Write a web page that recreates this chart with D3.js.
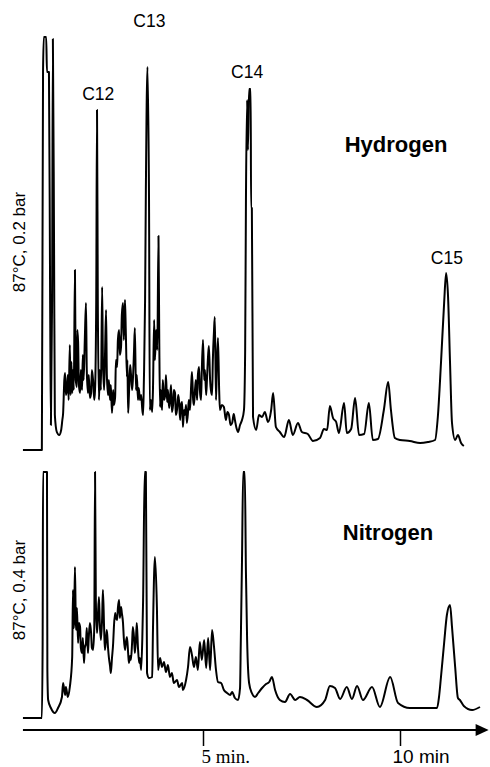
<!DOCTYPE html>
<html>
<head>
<meta charset="utf-8">
<script src="https://cdn.jsdelivr.net/npm/d3@7"></script>
<style>
  body { margin: 0; background: #fff; }
  svg { display: block; }
</style>
</head>
<body>
<div id="drawArea"></div>
<script>
// retention time (min), detector signal (arbitrary units)
var hydrogenTrace = [
  [0.43,0],[0.91,0],[0.94,378],[0.96,413],[1.02,413],[1.04,378],[1.09,378],[1.12,150],
  [1.14,25],[1.17,150],[1.19,411],[1.22,200],[1.24,35],[1.29,18],[1.35,15],[1.40,20],
  [1.43,30],[1.45,37],[1.48,70],[1.50,77],[1.52,55],[1.55,62],[1.57,75],[1.59,50],
  [1.62,105],[1.64,55],[1.66,88],[1.68,57],[1.70,80],[1.72,60],[1.75,180],[1.77,70],
  [1.80,63],[1.81,120],[1.83,108],[1.85,65],[1.88,57],[1.90,80],[1.93,60],[1.95,95],
  [1.97,70],[2.00,110],[2.03,147],[2.05,80],[2.08,57],[2.10,75],[2.13,52],[2.16,57],
  [2.18,80],[2.21,70],[2.24,50],[2.26,60],[2.29,150],[2.31,340],[2.33,150],[2.36,50],
  [2.38,80],[2.41,60],[2.44,163],[2.46,90],[2.49,60],[2.51,90],[2.54,140],[2.56,75],
  [2.59,55],[2.61,70],[2.64,50],[2.66,65],[2.69,37],[2.72,60],[2.74,45],[2.77,53],
  [2.79,90],[2.82,83],[2.84,110],[2.87,120],[2.89,95],[2.92,103],[2.94,135],[2.97,147],
  [2.99,110],[3.02,150],[3.04,120],[3.07,73],[3.08,90],[3.10,37],[3.12,55],[3.15,85],
  [3.17,77],[3.20,60],[3.22,70],[3.25,100],[3.27,122],[3.30,60],[3.32,75],[3.35,50],
  [3.37,62],[3.40,50],[3.43,55],[3.46,40],[3.48,35],[3.50,70],[3.53,150],[3.55,260],
  [3.59,383],[3.63,250],[3.65,40],[3.68,50],[3.71,38],[3.73,60],[3.76,130],[3.78,90],
  [3.81,120],[3.84,100],[3.87,214],[3.89,110],[3.91,43],[3.93,60],[3.96,40],[3.98,70],
  [4.01,50],[4.04,55],[4.06,75],[4.09,48],[4.11,60],[4.14,42],[4.16,50],[4.19,65],
  [4.21,38],[4.24,45],[4.26,60],[4.29,57],[4.31,35],[4.34,40],[4.37,55],[4.39,50],
  [4.42,30],[4.44,45],[4.47,48],[4.49,23],[4.52,40],[4.54,35],[4.57,45],[4.59,27],
  [4.62,38],[4.64,50],[4.67,40],[4.70,65],[4.72,78],[4.75,50],[4.77,45],[4.80,62],
  [4.82,70],[4.85,50],[4.87,75],[4.90,83],[4.92,60],[4.95,50],[4.97,80],[5.00,110],
  [5.03,70],[5.05,80],[5.08,55],[5.10,70],[5.13,95],[5.15,104],[5.18,70],[5.20,60],
  [5.23,55],[5.25,90],[5.28,120],[5.30,133],[5.33,50],[5.35,80],[5.38,112],[5.41,60],
  [5.43,40],[5.48,45],[5.53,43],[5.58,30],[5.62,38],[5.66,35],[5.70,25],[5.74,27],
  [5.78,36],[5.81,30],[5.85,22],[5.89,18],[5.94,25],[5.99,30],[6.04,40],[6.07,100],
  [6.09,250],[6.12,350],[6.14,300],[6.17,361],[6.21,361],[6.22,242],[6.24,242],[6.27,33],
  [6.35,20],[6.42,35],[6.50,33],[6.57,38],[6.65,28],[6.73,40],[6.78,57],[6.85,23],
  [6.95,18],[7.06,13],[7.18,30],[7.28,15],[7.41,27],[7.51,18],[7.66,16],[7.79,9],
  [7.97,12],[8.07,21],[8.15,20],[8.22,44],[8.30,32],[8.38,28],[8.45,17],[8.58,47],
  [8.65,17],[8.76,21],[8.86,52],[8.96,15],[9.09,16],[9.21,47],[9.31,10],[9.44,11],
  [9.59,40],[9.70,68],[9.77,40],[9.87,12],[10.00,10],[10.25,9],[10.51,7],[10.71,8],
  [10.89,10],[10.96,33],[11.04,87],[11.12,147],[11.17,177],[11.22,153],[11.27,87],[11.32,27],
  [11.40,10],[11.47,15],[11.55,7],[11.62,4]
];

var nitrogenTrace = [
  [0.43,0],[0.91,0],[0.93,75],[0.94,246],[1.04,246],[1.05,48],[1.07,18],[1.14,10],
  [1.24,5],[1.32,10],[1.42,21],[1.45,35],[1.50,23],[1.52,31],[1.57,21],[1.62,31],
  [1.68,61],[1.70,128],[1.72,90],[1.73,98],[1.75,151],[1.77,100],[1.78,88],[1.80,110],
  [1.83,75],[1.85,95],[1.88,91],[1.90,70],[1.93,65],[1.95,80],[1.98,55],[2.00,70],
  [2.03,75],[2.05,90],[2.08,65],[2.10,80],[2.13,95],[2.16,85],[2.18,70],[2.21,68],
  [2.24,90],[2.26,246],[2.28,118],[2.31,85],[2.33,100],[2.36,121],[2.38,95],[2.41,78],
  [2.44,100],[2.46,128],[2.49,90],[2.51,68],[2.54,80],[2.56,88],[2.59,70],[2.61,61],
  [2.64,52],[2.66,45],[2.69,60],[2.72,75],[2.74,92],[2.77,105],[2.79,100],[2.82,98],
  [2.84,110],[2.87,118],[2.89,100],[2.92,111],[2.94,105],[2.97,95],[2.99,80],[3.02,68],
  [3.04,75],[3.07,81],[3.10,65],[3.12,55],[3.15,62],[3.17,58],[3.20,75],[3.22,91],
  [3.25,80],[3.27,65],[3.30,80],[3.32,95],[3.35,70],[3.38,55],[3.40,60],[3.43,48],
  [3.46,80],[3.48,118],[3.52,246],[3.55,246],[3.58,45],[3.63,40],[3.71,41],[3.73,88],
  [3.78,161],[3.83,111],[3.86,48],[3.91,60],[3.96,51],[4.01,56],[4.06,46],[4.11,53],
  [4.16,41],[4.21,45],[4.26,35],[4.34,38],[4.39,31],[4.47,35],[4.49,28],[4.57,38],
  [4.62,51],[4.67,71],[4.72,63],[4.77,51],[4.82,61],[4.87,48],[4.92,76],[4.97,58],
  [5.03,78],[5.08,50],[5.13,80],[5.18,48],[5.23,88],[5.28,71],[5.33,48],[5.38,36],
  [5.46,35],[5.53,28],[5.61,25],[5.69,23],[5.74,26],[5.81,20],[5.89,18],[5.94,30],
  [5.96,78],[5.99,158],[6.02,246],[6.06,246],[6.09,145],[6.12,78],[6.17,35],[6.24,25],
  [6.32,21],[6.40,25],[6.50,30],[6.60,34],[6.68,36],[6.75,41],[6.83,28],[6.95,18],
  [7.08,16],[7.21,24],[7.34,18],[7.46,21],[7.64,18],[7.89,11],[8.10,18],[8.22,32],
  [8.35,30],[8.48,19],[8.65,31],[8.78,19],[8.91,32],[9.06,18],[9.29,31],[9.49,11],
  [9.75,41],[9.95,15],[10.25,10],[10.94,10],[10.99,21],[11.04,41],[11.12,75],[11.19,103],
  [11.27,113],[11.32,91],[11.40,51],[11.47,20],[11.52,18],[11.62,12],[11.83,8],[12.03,11]
];

var peakNames = ["C12", "C13", "C14", "C15"];
var peakLabelTimes = [2.34, 3.64, 6.12, 11.19];
var peakLabelSignals = [350, 423, 372, 186];

var tickValues = [5, 10];
var tickLabels = ["5 min.", "10 min"];
var axisDomain = [0.43, 12.25];

var panelGases = ["Hydrogen", "Nitrogen"];
var panelConditions = ["87\u00B0C, 0.2 bar", "87\u00B0C, 0.4 bar"];

var width = 490, height = 767;
var sans = "'Liberation Sans', Arial, Helvetica, sans-serif";
var serif = "'Liberation Serif', 'Times New Roman', serif";

var svg = d3.select("#drawArea").append("svg")
  .attr("width", width)
  .attr("height", height);

var x = d3.scaleLinear().domain([0, 10]).range([6, 400]);
var yTop = d3.scaleLinear().domain([0, 413]).range([450, 37]);
var yBot = d3.scaleLinear().domain([0, 246]).range([718, 472]);

function drawTrace(data, y) {
  var line = d3.line()
    .curve(d3.curveMonotoneX)
    .x(function(d) { return x(d[0]); })
    .y(function(d) { return y(d[1]); });
  svg.append("path")
    .datum(data)
    .attr("d", line)
    .attr("fill", "none")
    .attr("stroke", "#000")
    .attr("stroke-width", 2)
    .attr("stroke-linejoin", "round");
}

drawTrace(hydrogenTrace, yTop);
drawTrace(nitrogenTrace, yBot);

// peak labels
svg.selectAll("text.peak")
  .data(peakNames)
  .enter()
  .append("text")
    .classed("peak", true)
    .attr("x", function(d, i) { return x(peakLabelTimes[i]); })
    .attr("y", function(d, i) { return yTop(peakLabelSignals[i]); })
    .attr("text-anchor", "middle")
    .attr("font-family", sans)
    .attr("font-size", 17.5)
    .text(function(d) { return d; });

// gas names
svg.append("text")
  .attr("x", 396).attr("y", 152)
  .attr("text-anchor", "middle")
  .attr("font-family", sans)
  .attr("font-weight", "bold")
  .attr("font-size", 22)
  .text(panelGases[0]);

svg.append("text")
  .attr("x", 388).attr("y", 540)
  .attr("text-anchor", "middle")
  .attr("font-family", sans)
  .attr("font-weight", "bold")
  .attr("font-size", 22)
  .text(panelGases[1]);

// conditions, rotated
var condPos = [[25, 242], [25, 590]];
svg.selectAll("text.cond")
  .data(panelConditions)
  .enter()
  .append("text")
    .classed("cond", true)
    .attr("transform", function(d, i) { return "translate(" + condPos[i][0] + "," + condPos[i][1] + ") rotate(-90)"; })
    .attr("text-anchor", "middle")
    .attr("font-family", sans)
    .attr("font-size", 17)
    .text(function(d) { return d; });

// time axis with arrow
var axisY = 730;
var axis = d3.axisBottom(x)
  .tickValues(tickValues)
  .tickSize(16)
  .tickSizeOuter(0)
  .tickFormat(function(d, i) { return tickLabels[i]; });

var gAxis = svg.append("g")
  .attr("transform", "translate(0," + axisY + ")")
  .call(axis);

gAxis.select(".domain").remove();
gAxis.selectAll(".tick line")
  .attr("stroke", "#000")
  .attr("stroke-width", 1.5);
gAxis.selectAll(".tick text")
  .attr("fill", "#000")
  .attr("text-anchor", "start")
  .attr("dy", null)
  .attr("y", 33)
  .attr("x", function(d, i) { return i == 0 ? -2 : -8; })
  .attr("font-family", function(d, i) { return i == 0 ? serif : sans; })
  .attr("font-size", 19);

var x0 = x(axisDomain[0]), x1 = x(axisDomain[1]);
svg.append("line")
  .attr("x1", x0).attr("y1", axisY)
  .attr("x2", x1 - 10).attr("y2", axisY)
  .attr("stroke", "#000")
  .attr("stroke-width", 2.2);

svg.append("path")
  .attr("d", "M" + x1 + "," + axisY + "L" + (x1 - 13) + "," + (axisY - 6) + "L" + (x1 - 13) + "," + (axisY + 6) + "Z")
  .attr("fill", "#000");
</script>
</body>
</html>
